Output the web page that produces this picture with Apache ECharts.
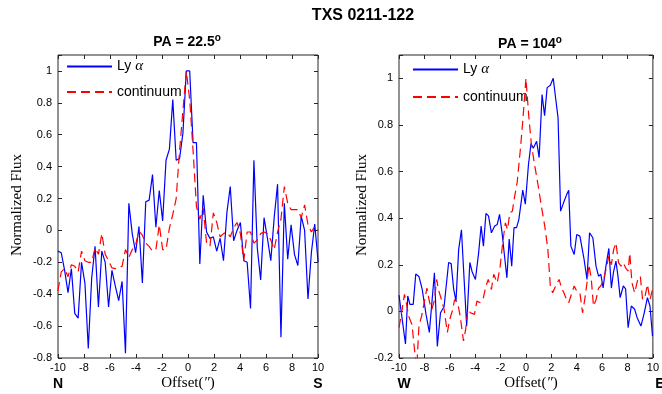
<!DOCTYPE html>
<html>
<head>
<meta charset="utf-8">
<script src="https://cdn.jsdelivr.net/npm/echarts@6/dist/echarts.min.js"></script>
<style>html,body{margin:0;padding:0;background:#fff}#c{width:662px;height:394px}</style>
</head>
<body>
<div id="c"></div>
<script>
// ---- data ----
const offsetsL = [-10.01,-9.75,-9.49,-9.23,-8.97,-8.71,-8.45,-8.19,-7.93,-7.67,-7.41,-7.15,-6.89,-6.63,-6.37,-6.11,-5.85,-5.59,-5.33,-5.07,-4.81,-4.55,-4.29,-4.03,-3.77,-3.51,-3.25,-2.99,-2.73,-2.47,-2.21,-1.95,-1.69,-1.43,-1.17,-0.91,-0.65,-0.39,-0.13,0.13,0.39,0.65,0.91,1.17,1.43,1.69,1.95,2.21,2.47,2.73,2.99,3.25,3.51,3.77,4.03,4.29,4.55,4.81,5.07,5.33,5.59,5.85,6.11,6.37,6.63,6.89,7.15,7.41,7.67,7.93,8.19,8.45,8.71,8.97,9.23,9.49,9.75,10.01];
const lyaL = [-0.13,-0.14,-0.25,-0.39,-0.24,-0.52,-0.55,-0.20,-0.33,-0.74,-0.30,-0.10,-0.48,-0.13,-0.20,-0.48,-0.25,-0.35,-0.44,-0.32,-0.77,0.17,-0.02,-0.14,0.025,-0.33,0.18,0.19,0.35,0.02,0.25,0.06,0.44,0.51,0.82,0.44,0.45,0.61,1.00,
  1.00,0.55,0.55,-0.21,0.22,-0.01,-0.05,-0.04,-0.13,-0.05,-0.19,0.11,0.275,-0.065,0.0,0.05,-0.19,-0.20,-0.49,0.44,-0.11,-0.31,0.08,-0.05,-0.19,0.08,0.29,-0.67,0.17,-0.18,0.035,-0.15,-0.22,0.09,0.0,-0.43,-0.14,0.04,-0.20];
const contL = [-0.38,-0.26,-0.24,-0.29,-0.215,-0.225,-0.26,-0.13,-0.19,-0.20,-0.20,-0.11,-0.15,-0.02,-0.15,-0.19,-0.235,-0.24,-0.23,-0.225,-0.12,-0.17,-0.12,-0.09,-0.005,-0.03,-0.08,-0.10,-0.13,-0.12,0.035,-0.12,-0.12,0.015,0.10,0.20,0.50,0.75,1.00,
  0.82,0.50,0.15,0.07,0.14,-0.08,-0.10,0.11,0.05,-0.04,-0.02,-0.01,-0.04,0.015,0.05,-0.02,-0.19,-0.01,-0.01,-0.08,-0.06,-0.02,-0.01,-0.02,-0.06,-0.12,-0.01,0.07,0.275,0.17,0.13,0.13,0.13,0.08,0.16,0.035,-0.01,0.025,0.0];

const offsetsLyaR = [-10,-9.49,-9.31,-9.14,-8.88,-8.68,-8.43,-8.17,-7.87,-7.61,-7.41,-7.21,-6.98,-6.73,-6.45,-6.09,-5.89,-5.69,-5.51,-5.3,-5.08,-4.87,-4.67,-4.42,-4.24,-3.98,-3.73,-3.53,-3.35,-3.15,-2.95,-2.72,-2.46,-2.26,-2.08,-1.88,-1.7,-1.5,-1.32,-1.12,-0.94,-0.74,-0.56,-0.43,-0.25,-0.05,0.2,0.4,0.58,0.84,1.04,1.27,1.47,1.67,1.92,2.15,2.35,2.53,2.73,2.99,3.2,3.37,3.54,3.8,4.0,4.25,4.56,4.81,5.01,5.27,5.52,5.72,5.9,6.08,6.28,6.53,6.73,6.9,7.09,7.25,7.42,7.67,7.85,8.05,8.3,8.56,8.76,9.06,9.32,9.57,9.77,9.97];
const lyaR = [0.07,-0.14,0.066,0.03,0.03,0.16,0.15,0.094,-0.013,-0.09,0.037,0.166,-0.15,-0.006,0.02,0.21,0.205,0.094,0.044,0.266,0.35,0.137,-0.063,0.21,0.17,0.137,0.25,0.366,0.28,0.42,0.41,0.337,0.366,0.373,0.416,0.337,0.244,0.144,0.31,0.194,0.359,0.359,0.394,0.40,0.52,0.46,0.63,0.72,0.70,0.73,0.66,0.93,0.84,0.96,0.97,1.0,0.91,0.83,0.43,0.47,0.50,0.52,0.28,0.244,0.33,0.323,0.23,0.137,0.337,0.316,0.194,0.151,0.159,0.101,0.187,0.27,0.1,0.17,0.216,0.15,0.059,0.109,0.097,-0.07,0.023,0.009,-0.027,-0.063,-0.006,0.059,0.023,-0.106];

const offsetsContR = [-10,-9.75,-9.57,-9.4,-9.24,-8.98,-8.73,-8.6,-8.43,-8.22,-7.97,-7.8,-7.6,-7.41,-7.2,-7.03,-6.9,-6.65,-6.45,-6.19,-6.0,-5.76,-5.63,-5.38,-5.18,-4.92,-4.75,-4.57,-4.37,-4.06,-3.86,-3.6,-3.35,-3.15,-2.97,-2.72,-2.54,-2.26,-2.03,-1.83,-1.62,-1.45,-1.27,-1.07,-0.9,-0.69,-0.43,-0.23,0.0,0.22,0.42,0.65,0.96,1.22,1.47,1.72,1.92,2.1,2.35,2.61,2.81,2.99,3.2,3.37,3.62,3.8,4.0,4.25,4.46,4.63,4.81,4.96,5.14,5.32,5.52,5.72,5.9,6.08,6.28,6.53,6.73,6.91,7.09,7.29,7.49,7.67,7.85,8.05,8.18,8.35,8.56,8.81,9.01,9.19,9.39,9.57,9.77,9.97];
const contR = [-0.07,0.009,0.073,0.03,-0.02,-0.056,-0.19,-0.24,-0.063,-0.02,0.05,0.1,0.04,0.009,0.05,0.137,0.094,0.05,0.009,-0.09,-0.034,0.009,0.05,0.037,-0.02,-0.127,-0.077,0.009,-0.006,-0.013,0.044,0.037,0.059,0.109,0.137,0.094,0.159,0.123,0.194,0.294,0.38,0.351,0.423,0.43,0.49,0.554,0.70,0.83,1.0,0.84,0.72,0.64,0.54,0.45,0.37,0.27,0.11,0.08,0.11,0.137,0.1,0.08,0.05,0.037,0.08,0.109,0.087,0.08,-0.006,0.05,0.123,0.2,0.144,0.023,0.05,0.1,0.11,0.13,0.173,0.237,0.2,0.266,0.294,0.209,0.194,0.209,0.187,0.173,0.25,0.123,0.08,0.137,0.151,0.05,0.066,0.116,0.05,0.094];

const xTicks = [-10,-8,-6,-4,-2,0,2,4,6,8,10];
const titleMain = 'TXS 0211-122';
const panelTitles = ['PA = 22.5', 'PA = 104'];
const dirLabels = [['N','S'],['W','E']];
const seriesNames = ['Ly α','continuum'];

// ---- chart ----
const pairs = (xs, ys) => xs.map((x, i) => [x, ys[i]]);
const FONT = 'Liberation Sans, Arial, Helvetica, sans-serif';
const SERIF = 'Liberation Serif, Times New Roman, serif';
const chart = echarts.init(document.getElementById('c'), null, {renderer: 'canvas'});

const tickStyle = {show: true, inside: true, length: 4, lineStyle: {color: '#262626', width: 1}};
function yFmt(v) {
  const r = Math.round(v * 5);
  if (Math.abs(r - v * 5) > 1e-6) return '';
  return String(+(r / 5).toFixed(1));
}
function xAxes(gi) {
  const base = {type: 'value', gridIndex: gi, min: -10, max: 10, interval: 2,
    axisLine: {show: false, onZero: false}, splitLine: {show: false}, axisTick: tickStyle};
  return [
    Object.assign({}, base, {position: 'bottom',
      axisLabel: {color: '#000', fontSize: 11, fontFamily: FONT, margin: 4}}),
    Object.assign({}, base, {position: 'top', axisLabel: {show: false}})
  ];
}
function yAxes(gi, min) {
  const base = {type: 'value', gridIndex: gi, min: min, max: 1.1, interval: 0.2,
    axisLine: {show: false, onZero: false}, splitLine: {show: false}, axisTick: tickStyle};
  return [
    Object.assign({}, base, {position: 'left',
      axisLabel: {color: '#000', fontSize: 11, fontFamily: FONT, margin: 6, formatter: yFmt}}),
    Object.assign({}, base, {position: 'right', axisLabel: {show: false}})
  ];
}
const blue = {color: '#0000ff', width: 1.2};
const red = {color: '#ff0000', width: 1.2, type: [9, 5]};
function ser(name, xi, yi, data, ls) {
  return {type: 'line', name: name, xAxisIndex: xi, yAxisIndex: yi, data: data,
    symbol: 'none', showSymbol: false, clip: true, animation: false,
    lineStyle: ls, itemStyle: {color: ls.color}, z: name === seriesNames[0] ? 3 : 4};
}
function legend(left, top, gap) {
  return {left: left, top: top, orient: 'vertical', itemWidth: 45, itemHeight: 14, itemGap: gap,
    padding: 0, selectedMode: false, data: seriesNames,
    itemStyle: {color: 'rgba(0,0,0,0)', borderColor: 'rgba(0,0,0,0)', borderWidth: 0, opacity: 0},
    textStyle: {color: '#000', fontSize: 14, fontFamily: FONT,
      rich: {n: {fontSize: 14, fontFamily: FONT, color: '#000'},
             a: {fontSize: 15, fontFamily: SERIF, fontStyle: 'italic', color: '#000'}}},
    formatter: n => n === seriesNames[0] ? '{n|Ly }{a|α}' : '{n|' + n + '}'};
}
function txt(x, y, text, opts) {
  return Object.assign({type: 'text', x: x, y: y, silent: true,
    style: Object.assign({text: text, fill: '#000', align: 'center', verticalAlign: 'middle'}, opts.style || {})},
    opts.rot !== undefined ? {rotation: opts.rot} : {});
}
const offRich = {n: {fontSize: 15, fontFamily: SERIF, color: '#000'},
                 i: {fontSize: 15, fontFamily: SERIF, fontStyle: 'italic', color: '#000'}};
const paRich = {t: {fontSize: 14, fontWeight: 'bold', fontFamily: FONT, color: '#000'},
                s: {fontSize: 10, fontWeight: 'bold', fontFamily: FONT, color: '#000', verticalAlign: 'top', padding: [0, 0, 8, 0]}};

const option = {
  animation: false,
  backgroundColor: '#fff',
  grid: [
    {left: 58, right: 344, top: 55, bottom: 36, show: true, borderColor: '#262626', borderWidth: 1, backgroundColor: 'transparent'},
    {left: 399, right: 1, top: 55, bottom: 36, show: true, borderColor: '#262626', borderWidth: 1, backgroundColor: 'transparent'}
  ],
  xAxis: xAxes(0).concat(xAxes(1)),
  yAxis: yAxes(0, -0.8).concat(yAxes(1, -0.2)),
  legend: [legend(66, 59, 11), legend(412, 62, 13)],
  series: [
    ser(seriesNames[0], 0, 0, pairs(offsetsL, lyaL), blue),
    ser(seriesNames[1], 0, 0, pairs(offsetsL, contL), red),
    ser(seriesNames[0], 2, 2, pairs(offsetsLyaR, lyaR), blue),
    ser(seriesNames[1], 2, 2, pairs(offsetsContR, contR), red)
  ],
  graphic: [
    txt(363, 16, titleMain, {style: {font: 'bold 16px ' + FONT}}),
    txt(187, 42, '{t|' + panelTitles[0] + '}{s|o}', {style: {rich: paRich}}),
    txt(530, 44, '{t|' + panelTitles[1] + '}{s|o}', {style: {rich: paRich}}),
    txt(17, 205, 'Normalized Flux', {rot: Math.PI / 2, style: {font: '15px ' + SERIF}}),
    txt(362, 205, 'Normalized Flux', {rot: Math.PI / 2, style: {font: '15px ' + SERIF}}),
    txt(188, 383, '{n|Offset(}{i|″}{n|)}', {style: {rich: offRich}}),
    txt(531, 383, '{n|Offset(}{i|″}{n|)}', {style: {rich: offRich}}),
    txt(58, 384, dirLabels[0][0], {style: {font: 'bold 14px ' + FONT}}),
    txt(318, 384, dirLabels[0][1], {style: {font: 'bold 14px ' + FONT}}),
    txt(404, 384, dirLabels[1][0], {style: {font: 'bold 14px ' + FONT}}),
    txt(660, 384, dirLabels[1][1], {style: {font: 'bold 14px ' + FONT}})
  ]
};
chart.setOption(option);
</script>
</body>
</html>
